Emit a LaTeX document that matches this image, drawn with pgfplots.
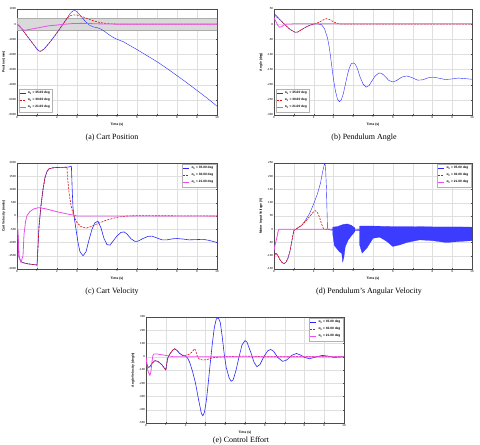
\documentclass[border=0pt]{standalone}
\usepackage{pgfplots}
\pgfplotsset{compat=1.18}
\usepackage{fontspec}
\setmainfont{Liberation Serif}
\setsansfont{Liberation Sans}
\newcommand\tickfont{\fontsize{2.9}{3.2}\selectfont\sffamily}
\newcommand\labfont{\fontsize{3.3}{3.6}\selectfont\sffamily\bfseries}
\newcommand\legfont{\fontsize{3.2}{3.5}\selectfont\sffamily\bfseries}
\newcommand\capfont{\fontsize{8}{9}\selectfont}
\newcommand\ea{α\textsubscript{0}}
\definecolor{mblue}{rgb}{0.15,0.15,1}
\definecolor{mred}{rgb}{0.9,0.05,0.05}
\definecolor{mmag}{rgb}{0.92,0.3,0.92}
\pgfplotsset{
  myax/.style={
    scale only axis, height=106bp, xmin=0, xmax=10, xtick={0,1,...,10},
    grid=major, major grid style={gray!25, line width=0.2pt},
    axis line style={gray!60!black, line width=0.3pt},
    tick style={gray!60!black, line width=0.2pt}, major tick length=1.2bp,
    tick align=inside,
    tick label style={font=\tickfont},
    xticklabel style={inner sep=0.8pt},
    yticklabel style={inner sep=0.8pt},
    label style={font=\labfont},
    xlabel={Time (s)},
    xlabel style={at={(axis description cs:0.5,-0.094)}, anchor=center},
    ylabel style={at={(axis description cs:-0.066,0.5)}, anchor=center},
    legend style={font=\legfont, draw=gray!60, line width=0.2pt, inner sep=0.5pt,
      row sep=-0.9pt, fill=white},
    legend cell align=left,
    legend image code/.code={\draw[##1] (0bp,0bp) -- (6bp,0bp);},
    /pgf/number format/assume math mode=true,
    /pgf/number format/1000 sep={},
  },
  bl/.style={mblue, line width=0.4pt},
  rd/.style={mred, line width=0.6pt, dash pattern=on 2bp off 1.2bp},
  mg/.style={mmag, line width=0.8pt},
}
\begin{document}
\begin{tikzpicture}[x=1bp,y=1bp]
\useasboundingbox (0,0) rectangle (480,445);

% ---------------- (a) Cart Position
\begin{axis}[myax, at={(17bp,330bp)}, anchor=south west, width=200bp,
  ymin=-6000, ymax=1000, ytick={-6000,-5000,...,1000}, ylabel={Position (mm)},
  legend style={at={(0.008,0.03)}, anchor=south west}]
\addplot[fill=gray!30, draw=gray!65, line width=0.3pt, forget plot] coordinates {(0,-400) (10,-400) (10,400) (0,400)} -- cycle;
\addplot[bl] coordinates {(0,0) (0.2,-250) (0.4,-600) (0.6,-950) (0.8,-1300) (1.0,-1650) (1.1,-1770) (1.15,-1790) (1.2,-1780) (1.35,-1650) (1.5,-1420) (1.7,-1100) (1.9,-750) (2.1,-380) (2.3,0) (2.5,380) (2.65,700) (2.8,880) (2.9,900) (3.0,820) (3.2,520) (3.4,200) (3.6,-50) (3.8,-180) (4.0,-230) (4.2,-330) (4.4,-500) (4.6,-700) (4.8,-870) (5.0,-1000) (5.3,-1150) (5.6,-1380) (6.0,-1680) (6.5,-2080) (7.0,-2480) (7.5,-2930) (8.0,-3400) (8.5,-3880) (9.0,-4380) (9.5,-4880) (10,-5420)};
\addlegendentry{\ea{} = 35.00 deg}
\addplot[rd] coordinates {(0,0) (0.2,-250) (0.4,-600) (0.6,-950) (0.8,-1300) (1.0,-1650) (1.1,-1770) (1.15,-1790) (1.2,-1780) (1.35,-1650) (1.5,-1420) (1.7,-1100) (1.9,-750) (2.1,-380) (2.3,0) (2.5,380) (2.65,560) (2.8,610) (3.0,600) (3.2,520) (3.5,380) (3.8,230) (4.1,120) (4.4,50) (4.8,10) (5.2,0) (10,0)};
\addlegendentry{\ea{} = 30.00 deg}
\addplot[mg] coordinates {(0,0) (0.1,-80) (0.2,-250) (0.3,-370) (0.37,-410) (0.45,-395) (0.7,-330) (1.0,-260) (1.3,-180) (1.6,-110) (2.0,-60) (2.4,-5) (2.8,40) (3.2,50) (3.6,40) (4,20) (5,0) (10,0)};
\addlegendentry{\ea{} = 21.00 deg}
\end{axis}
\node[anchor=base, font=\capfont] at (112,305.5) {(a) Cart Position};

% ---------------- (b) Pendulum Angle
\begin{axis}[myax, at={(274bp,330bp)}, anchor=south west, width=198bp,
  ymin=-300, ymax=50, ytick={-300,-250,...,50}, ylabel={Angle (deg)},
  legend style={at={(0.008,0.03)}, anchor=south west}]
\addplot[bl] coordinates {(0,35) (0.2,22) (0.4,8) (0.6,-5) (0.8,-17) (1.0,-25) (1.1,-27) (1.2,-26) (1.4,-18) (1.6,-10) (1.8,-4) (2.0,0) (2.2,1) (2.4,-2) (2.55,-15) (2.7,-45) (2.8,-80) (2.9,-130) (3.0,-180) (3.1,-220) (3.2,-247) (3.3,-256) (3.4,-250) (3.5,-230) (3.6,-200) (3.7,-170) (3.8,-145) (3.9,-131) (4.0,-128) (4.1,-132) (4.2,-145) (4.35,-175) (4.5,-198) (4.65,-208) (4.8,-203) (4.95,-187) (5.1,-172) (5.3,-161) (5.45,-163) (5.6,-172) (5.8,-186) (6.0,-191) (6.2,-186) (6.45,-175) (6.7,-171) (6.95,-176) (7.25,-185) (7.5,-184) (7.8,-177) (8.0,-175) (8.3,-178) (8.65,-183) (9.0,-181) (9.3,-178) (9.65,-180) (10,-182)};
\addlegendentry{\ea{} = 35.00 deg}
\addplot[rd] coordinates {(0,30) (0.2,20) (0.4,8) (0.6,-5) (0.8,-17) (1.0,-25) (1.1,-27) (1.2,-26) (1.4,-18) (1.6,-10) (1.8,-4) (2.0,0) (2.2,4) (2.4,11) (2.55,16) (2.65,18) (2.8,15) (3.0,8) (3.2,2) (3.4,0) (10,0)};
\addlegendentry{\ea{} = 30.00 deg}
\addplot[mg] coordinates {(0,21) (0.1,8) (0.2,-5) (0.28,-10) (0.4,-8) (0.5,-3) (0.6,0) (1,1) (10,1)};
\addlegendentry{\ea{} = 21.00 deg}
\end{axis}
\node[anchor=base, font=\capfont] at (364,305.5) {(b) Pendulum Angle};

% ---------------- (c) Cart Velocity
\begin{axis}[myax, at={(17bp,176bp)}, anchor=south west, width=200bp,
  ymin=-2000, ymax=2000, ytick={-2000,-1500,...,2000}, ylabel={Cart Velocity (mm/s)},
  legend style={at={(0.995,0.99)}, anchor=north east}]
\addplot[bl, line width=0.6pt] coordinates {(0,0) (0.1,-1550) (0.2,-1720) (0.3,-1760) (0.5,-1800) (0.8,-1830) (1.0,-1850) (1.04,-1300) (1.1,-400) (1.2,400) (1.3,1000) (1.4,1450) (1.5,1680) (1.6,1780) (1.8,1820) (2.0,1830) (2.5,1840) (2.65,1860) (2.72,1880) (2.76,1000) (2.8,300) (2.85,0) (2.95,-500) (3.05,-1000) (3.15,-1350) (3.3,-1500) (3.45,-1350) (3.6,-900) (3.75,-500) (3.9,-250) (4.05,-200) (4.2,-450) (4.35,-850) (4.5,-1080) (4.65,-1100) (4.8,-950) (5.0,-750) (5.2,-620) (5.35,-600) (5.5,-680) (5.7,-860) (5.9,-960) (6.05,-950) (6.3,-850) (6.55,-770) (6.75,-760) (7.0,-830) (7.25,-900) (7.5,-900) (7.8,-860) (8.0,-850) (8.3,-870) (8.6,-900) (9.0,-890) (9.3,-880) (9.6,-920) (10,-1000)};
\addlegendentry{\ea{} = 35.00 deg}
\addplot[rd] coordinates {(0,0) (0.1,-1550) (0.2,-1720) (0.3,-1760) (0.5,-1800) (0.8,-1830) (1.0,-1850) (1.04,-1300) (1.1,-400) (1.2,400) (1.3,1000) (1.4,1450) (1.5,1680) (1.6,1780) (1.8,1820) (2.0,1830) (2.5,1840) (2.52,1500) (2.6,900) (2.7,400) (2.8,100) (2.9,-100) (3.0,-250) (3.2,-400) (3.45,-460) (3.7,-400) (4.0,-300) (4.5,-150) (5.0,-50) (5.5,0) (6,15) (7,10) (10,0)};
\addlegendentry{\ea{} = 30.00 deg}
\addplot[mg] coordinates {(0,0) (0.1,-1550) (0.2,-1750) (0.3,-1500) (0.35,-700) (0.43,-200) (0.5,20) (0.65,170) (0.85,270) (1.05,310) (1.2,305) (1.5,260) (2.0,160) (2.5,80) (2.85,30) (3.0,0) (10,0)};
\addlegendentry{\ea{} = 21.00 deg}
\end{axis}
\node[anchor=base, font=\capfont] at (112,151) {(c) Cart Velocity};

% ---------------- (d) Motor voltage
\begin{axis}[myax, at={(274bp,176bp)}, anchor=south west, width=198bp,
  ymin=-150, ymax=250, ytick={-150,-100,...,250}, ylabel={Motor Input Voltage (V)},
  legend style={at={(0.995,0.99)}, anchor=north east}]
\addplot[bl] coordinates {(0,-110) (0.05,-95) (0.1,-90) (0.2,-100) (0.3,-115) (0.4,-125) (0.5,-130) (0.6,-125) (0.7,-110) (0.8,-85) (0.9,-45) (1.0,-5) (1.2,5) (1.4,15) (1.6,35) (1.8,60) (2.0,95) (2.2,135) (2.35,175) (2.45,215) (2.55,248) (2.6,240) (2.65,150) (2.7,0) (2.85,-3) (3.0,-4) (4.1,-5) (4.35,-5)};
\addlegendentry{\ea{} = 35.00 deg}
\addplot[rd] coordinates {(0,-110) (0.05,-95) (0.1,-90) (0.2,-100) (0.3,-115) (0.4,-125) (0.5,-130) (0.6,-125) (0.7,-110) (0.8,-85) (0.9,-45) (1.0,-5) (1.2,5) (1.4,15) (1.6,30) (1.8,48) (2.0,66) (2.1,70) (2.2,62) (2.3,45) (2.4,20) (2.5,2) (2.6,0) (10,0)};
\addlegendentry{\ea{} = 30.00 deg}
\addplot[mg] coordinates {(0,-80) (0.05,-60) (0.1,-45) (0.15,-30) (0.2,-10) (0.25,0) (10,0)};
\addlegendentry{\ea{} = 21.00 deg}
\addplot[fill=mblue!90, draw=mblue, line width=0.2pt, forget plot] coordinates {(2.97,8) (3.2,10) (3.5,18) (3.7,20) (3.9,15) (4.08,5) (4.08,-9) (3.9,-25) (3.75,-40) (3.6,-65) (3.53,-105) (3.47,-124) (3.42,-90) (3.3,-85) (3.2,-75) (3.05,-62) (2.97,-20)} -- cycle;
\addplot[fill=mblue!90, draw=mblue, line width=0.2pt, forget plot] coordinates {(4.33,12) (5,12) (6,10) (7,10) (8,9) (9,9) (10,8) (10,-43) (9.4,-46) (8.7,-50) (8.0,-43) (7.35,-40) (6.7,-50) (6.35,-59) (6.0,-65) (5.7,-46) (5.35,-30) (5.0,-34) (4.7,-70) (4.45,-90) (4.33,-60)} -- cycle;
\end{axis}
\node[anchor=base, font=\capfont] at (369,151) {(d) Pendulum’s Angular Velocity};

% ---------------- (e) Angle velocity
\begin{axis}[myax, at={(146bp,22bp)}, anchor=south west, width=198bp,
  ymin=-500, ymax=300, ytick={-500,-400,...,300}, ylabel={Angle Velocity (deg/s)},
  legend style={at={(0.995,0.99)}, anchor=north east}]
\addplot[bl, line width=0.6pt] coordinates {(0,-10) (0.05,-60) (0.1,-80) (0.2,-75) (0.3,-50) (0.45,-30) (0.6,-35) (0.8,-60) (0.95,-90) (1.0,-100) (1.05,-50) (1.1,-10) (1.2,20) (1.35,50) (1.45,60) (1.55,50) (1.7,25) (1.85,10) (2.0,5) (2.1,-10) (2.2,-40) (2.35,-110) (2.5,-200) (2.65,-320) (2.8,-430) (2.87,-445) (2.95,-420) (3.05,-330) (3.15,-190) (3.25,-40) (3.35,100) (3.45,220) (3.55,285) (3.65,295) (3.75,260) (3.85,150) (3.95,20) (4.05,-80) (4.2,-160) (4.3,-185) (4.4,-175) (4.55,-100) (4.7,0) (4.85,90) (5.0,122) (5.1,110) (5.3,30) (5.45,-40) (5.6,-75) (5.75,-60) (5.95,0) (6.15,45) (6.3,55) (6.45,40) (6.65,-5) (6.9,-35) (7.1,-25) (7.35,10) (7.6,25) (7.85,10) (8.0,-5) (8.25,-15) (8.5,-5) (8.9,10) (9.2,5) (9.5,-5) (10,0)};
\addlegendentry{\ea{} = 35.00 deg}
\addplot[rd] coordinates {(0,-10) (0.05,-60) (0.1,-80) (0.2,-75) (0.3,-50) (0.45,-30) (0.6,-35) (0.8,-60) (0.95,-90) (1.0,-100) (1.05,-50) (1.1,-10) (1.2,20) (1.35,50) (1.45,60) (1.55,50) (1.7,25) (1.85,10) (2.0,10) (2.2,20) (2.35,40) (2.45,60) (2.5,50) (2.6,0) (2.7,-20) (2.9,-25) (3.1,-20) (3.3,-10) (3.5,-5) (4,0) (5,5) (6,0) (10,0)};
\addlegendentry{\ea{} = 30.00 deg}
\addplot[mg] coordinates {(0,0) (0.05,-60) (0.1,-110) (0.2,-140) (0.25,-110) (0.3,-40) (0.35,10) (0.4,20) (0.6,20) (0.8,15) (1.0,10) (1.2,5) (1.4,0) (10,0)};
\addlegendentry{\ea{} = 21.00 deg}
\end{axis}
\node[anchor=base, font=\capfont] at (241,2.2) {(e) Control Effort};
\end{tikzpicture}
\end{document}
